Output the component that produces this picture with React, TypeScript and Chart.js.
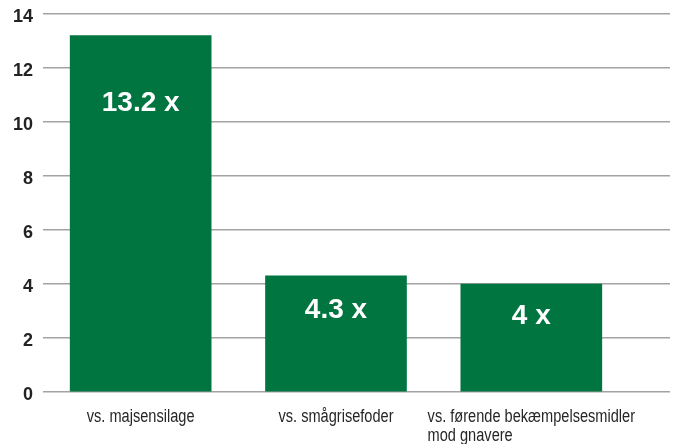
import React, { useEffect, useRef } from "react";
import { Chart, registerables } from "chart.js";

Chart.register(...registerables);

const categories: string[][] = [
  ["vs. majsensilage"],
  ["vs. smågrisefoder"],
  ["vs. førende bekæmpelsesmidler", "mod gnavere"],
];
const values = [13.2, 4.3, 4];
const valueLabels = ["13.2 x", "4.3 x", "4 x"];
const yMin = 0;
const yMax = 14;
const yStep = 2;

const BAR_COLOR = "#007540";
const LABEL_FONT = '18px "Liberation Sans", Arial, sans-serif';
const CONDENSE = 0.81;

const labelsPlugin = {
  id: "customLabels",
  afterDatasetsDraw(chart: any) {
    const ctx = chart.ctx;
    const meta = chart.getDatasetMeta(0);
    ctx.save();
    ctx.fillStyle = "#ffffff";
    ctx.font = 'bold 28px "Liberation Sans", Arial, sans-serif';
    ctx.textAlign = "center";
    ctx.textBaseline = "middle";
    meta.data.forEach((bar: any, i: number) => {
      const { x, y, base } = bar.getProps(["x", "y", "base"], true);
      const h = base - y;
      const off = Math.min(68, h * 0.3);
      ctx.fillText(valueLabels[i], x, y + off);
    });
    ctx.restore();
  },
  afterDraw(chart: any) {
    const ctx = chart.ctx;
    const xs = chart.scales.x;
    const area = chart.chartArea;
    ctx.save();
    ctx.fillStyle = "#262626";
    ctx.font = LABEL_FONT;
    ctx.textAlign = "left";
    ctx.textBaseline = "alphabetic";
    categories.forEach((lines, i) => {
      const cx = xs.getPixelForValue(i + 0.5);
      const widths = lines.map((l) => ctx.measureText(l).width * CONDENSE);
      const w = Math.max(...widths);
      const left = Math.min(cx - w / 2, area.right - w);
      lines.forEach((line, j) => {
        ctx.fillText(line, left, area.bottom + 30 + j * 19, widths[j]);
      });
    });
    ctx.restore();
  },
};

export default function App() {
  const ref = useRef<HTMLCanvasElement | null>(null);
  useEffect(() => {
    if (!ref.current) return;
    const chart = new Chart(ref.current, {
      type: "bar",
      data: {
        datasets: [
          {
            data: values.map((v, i) => ({ x: i + 0.5, y: v })),
            backgroundColor: BAR_COLOR,
            borderWidth: 0,
            barThickness: 141,
          },
        ],
      },
      options: {
        animation: false,
        responsive: false,
        maintainAspectRatio: false,
        layout: { padding: { top: 14, right: 8, left: 0, bottom: 0 } },
        plugins: {
          legend: { display: false },
          tooltip: { enabled: false },
          title: { display: false },
        },
        scales: {
          x: {
            type: "linear",
            min: 0,
            max: 3.21,
            offset: false,
            grid: { display: false },
            border: { display: false },
            ticks: { display: false },
            afterFit: (s: any) => {
              s.height = 52;
              s.paddingLeft = 0;
              s.paddingRight = 0;
            },
          },
          y: {
            min: yMin,
            max: yMax,
            grid: {
              color: "#a3a3a3",
              lineWidth: 1.5,
              drawTicks: false,
            },
            border: { display: false },
            ticks: {
              stepSize: yStep,
              padding: 10,
              labelOffset: 3,
              color: "#222222",
              font: { family: '"Liberation Sans", Arial, sans-serif', size: 18, weight: "bold" },
            },
            afterFit: (s: any) => {
              s.width = 43;
              s.paddingTop = 0;
              s.paddingBottom = 0;
            },
          },
        },
      },
      plugins: [labelsPlugin],
    } as any);
    return () => chart.destroy();
  }, []);
  return (
    <div style={{ position: "fixed", left: 0, top: 0, width: 678, height: 444, background: "#fff" }}>
      <canvas ref={ref} width={678} height={444} style={{ width: 678, height: 444 }} />
    </div>
  );
}
